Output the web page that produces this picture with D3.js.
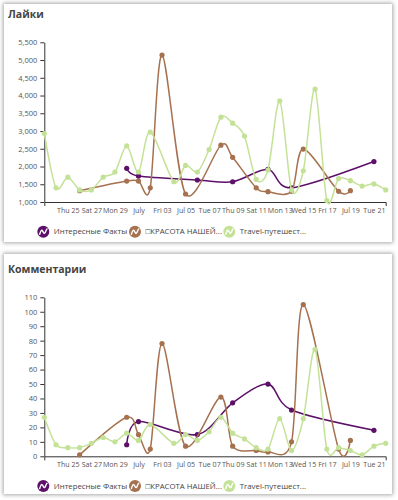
<!DOCTYPE html>
<html><head><meta charset="utf-8">
<script src="https://cdn.jsdelivr.net/npm/d3@7"></script>
<style>
html,body{margin:0;padding:0;background:#fff;width:398px;height:500px;overflow:hidden;font-family:"Open Sans",sans-serif;}
.card{position:absolute;background:#fff;box-shadow:0 0 4px 1px rgba(0,0,0,0.35);}
svg{position:absolute;left:0;top:0;}
</style></head>
<body>
<div class="card" style="left:4px;top:4px;width:388px;height:238px;"></div>
<div class="card" style="left:4px;top:254px;width:388px;height:240px;"></div>
<svg id="chart" width="398" height="500"></svg>
<script>
const days = ["2015-06-23","2015-06-24","2015-06-25","2015-06-26","2015-06-27","2015-06-28","2015-06-29","2015-06-30",
"2015-07-01","2015-07-02","2015-07-03","2015-07-04","2015-07-05","2015-07-06","2015-07-07","2015-07-08","2015-07-09",
"2015-07-10","2015-07-11","2015-07-12","2015-07-13","2015-07-14","2015-07-15","2015-07-16","2015-07-17","2015-07-18",
"2015-07-19","2015-07-20","2015-07-21","2015-07-22"];
const seriesNames = ["Интересные Факты","□КРАСОТА НАШЕЙ...","Travel-путешест..."];
const seriesColors = ["#5c1068","#a5714f","#c4e297"];

const likesPurple = [null,null,null,null,null,null,null,1950,1730,null,null,null,null,1620,null,null,1570,null,null,1920,null,1400,null,null,null,null,null,null,2140,null];
const likesBrown  = [null,null,null,1320,null,null,null,1590,1590,1400,5140,null,1225,null,null,2600,2260,null,1400,1290,null,1300,2490,null,null,1300,1320,null,null,null];
const likesGreen  = [2930,1400,1700,1340,1340,1700,1845,2580,1845,2970,null,1570,2030,1845,2480,3390,3220,2860,1640,1900,3850,1340,1880,4180,1040,1660,1600,1450,1510,1340];

const commentsPurple = [null,null,null,null,null,null,null,8,24,null,null,null,null,15,null,null,37,null,null,50,null,32,null,null,null,null,null,null,18,null];
const commentsBrown  = [null,null,null,1,null,null,null,27,15,5,78,null,7,null,null,41,7,null,4,3,null,10,105,null,null,5,11,null,null,null];
const commentsGreen  = [27,8,6,6,9,13,10,16,11,22,null,9,15,11,17,27,16,12,6,5,26,4,26,74,5,6,4,1,7,9];

const xTickDates  = ["2015-06-25","2015-06-27","2015-06-29","2015-07-01","2015-07-03","2015-07-05","2015-07-07","2015-07-09","2015-07-11","2015-07-13","2015-07-15","2015-07-17","2015-07-19","2015-07-21"];
const xTickLabels = ["Thu 25","Sat 27","Mon 29","July","Fri 03","Jul 05","Tue 07","Thu 09","Sat 11","Mon 13","Wed 15","Fri 17","Jul 19","Tue 21"];
const likesTicks = [1000,1500,2000,2500,3000,3500,4000,4500,5000,5500];
const commentsTicks = [0,10,20,30,40,50,60,70,80,90,100,110];

const parse = d3.timeParse("%Y-%m-%d");
const dates = days.map(parse);
const svg = d3.select("#chart");

function drawChart(cfg){
  const g = svg.append("g");
  g.append("text").attr("x",8).attr("y",cfg.titleY).text(cfg.title)
    .attr("font-size",10.5).attr("font-weight","bold").attr("fill","#444");
  const x = d3.scaleTime().domain([dates[0], dates[dates.length-1]]).range([44.3,385.7]);
  const y = d3.scaleLinear().domain(cfg.domain).range([cfg.y0, cfg.y1]);

  const yAxis = d3.axisLeft(y).tickValues(cfg.ticks).tickSize(4).tickSizeOuter(0).tickPadding(3)
      .tickFormat(d3.format(","));
  const ya = g.append("g").attr("transform","translate(44.3,0)").call(yAxis);
  ya.select(".domain").attr("stroke","#333");
  ya.selectAll(".tick line").attr("stroke","#333");
  ya.selectAll("text").attr("font-size",7.5).attr("fill","#555").attr("font-family","Open Sans");

  const xAxis = d3.axisBottom(x).tickValues(xTickDates.map(parse)).tickSizeInner(0).tickSizeOuter(4).tickPadding(6)
      .tickFormat((d,i)=>xTickLabels[i]);
  const xa = g.append("g").attr("transform",`translate(0,${cfg.y0})`).call(xAxis);
  xa.select(".domain").attr("stroke","#333");
  xa.selectAll("text").attr("font-size",7.1).attr("fill","#555").attr("font-family","Open Sans");

  const line = d3.line().x(d=>x(d.date)).y(d=>y(d.v)).curve(d3.curveCardinal.tension(0.1));
  cfg.series.forEach((arr,si)=>{
    const pts = arr.map((v,i)=>({date:dates[i],v})).filter(d=>d.v!==null);
    g.append("path").datum(pts).attr("d",line).attr("fill","none")
      .attr("stroke",seriesColors[si]).attr("stroke-width",1.5);
    g.selectAll(null).data(pts).enter().append("circle")
      .attr("cx",d=>x(d.date)).attr("cy",d=>y(d.v)).attr("r",2.6).attr("fill",seriesColors[si]);
  });

  const legX = [43.3,135,229.3];
  const lg = g.append("g");
  seriesNames.forEach((n,i)=>{
    const it = lg.append("g").attr("transform",`translate(${legX[i]},${cfg.legY})`);
    it.append("circle").attr("r",6).attr("fill",seriesColors[i]);
    it.append("path").attr("d","M-3.6,2.6 C-2.6,-1 -1.6,-2.6 -0.6,-0.6 S1,2.6 2,0.6 S3,-2.4 3.8,-2.8")
      .attr("fill","none").attr("stroke","#fff").attr("stroke-width",1.4).attr("stroke-linecap","round");
    it.append("text").attr("x",10.5).attr("y",2.7).text(n).attr("font-size",7.8).attr("fill","#444");
  });
}

drawChart({title:"Лайки",titleY:18,domain:[1000,5500],y0:202,y1:42.3,ticks:likesTicks,
  series:[likesPurple,likesBrown,likesGreen],legY:231.7});
drawChart({title:"Комментарии",titleY:273,domain:[0,110],y0:456.3,y1:297.3,ticks:commentsTicks,
  series:[commentsPurple,commentsBrown,commentsGreen],legY:486});
</script>
</body></html>
